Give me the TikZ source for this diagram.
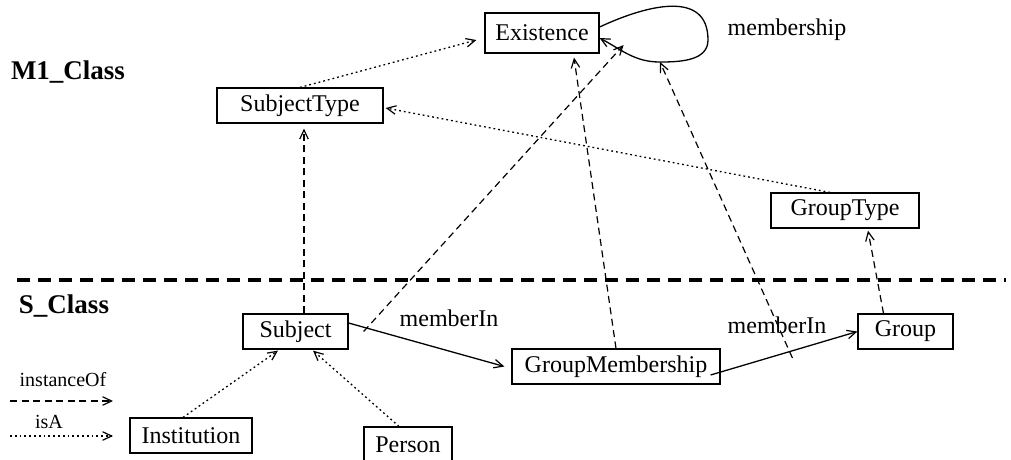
\documentclass[tikz,border=0pt]{standalone}
\usepackage{fontspec}
\setmainfont{Liberation Serif}
\usetikzlibrary{arrows.meta}

\begin{document}
\begin{tikzpicture}[x=1pt,y=-1pt,
  box/.style={draw,line width=1.2pt,inner sep=0pt,minimum height=35pt,
    font=\fontsize{24}{28}\selectfont},
  lbl/.style={inner sep=0pt,font=\fontsize{24}{28}\selectfont},
  level/.style={inner sep=0pt,font=\fontsize{27}{30}\selectfont\bfseries},
  legendtxt/.style={inner sep=0pt,font=\fontsize{20}{24}\selectfont},
  tip/.style={-{Straight Barb[length=9pt,width=8.5pt,line width=1.2pt]}},
  inst/.style={tip,line width=1.2pt,dash pattern=on 7pt off 4.5pt},
  isa/.style={tip,line width=1.3pt,dash pattern=on 1.8pt off 3pt},
  rel/.style={tip,line width=1.3pt},
  sep/.style={line width=3.2pt,dash pattern=on 13pt off 8pt}]
\useasboundingbox (0,0) rectangle (1011,459);

% level titles and the separator between them
\node[level] (m1) at (68,72) {M1\_Class};
\node[level] (sc) at (64,306) {S\_Class};
\coordinate (sep0) at (17,280);
\coordinate (sep1) at (1006,280);
\draw[sep] (sep0) -- (sep1);

% M1 classes
\node[box,minimum width=114pt,minimum height=40pt] (ex) at (542,33) {Existence};
\node[box,minimum width=166pt] (st) at (300,105.5) {SubjectType};
\node[box,minimum width=148pt] (gt) at (845,210.5) {GroupType};

% S classes
\node[box,minimum width=105pt] (sub) at (295.5,331.5) {Subject};
\node[box,minimum width=122pt] (inst) at (191,435.5) {Institution};
\node[box,minimum width=88pt] (per) at (408,444.5) {Person};
\node[box,minimum width=208pt] (gm) at (616,366.5) {GroupMembership};
\node[box,minimum width=95pt] (grp) at (905.5,331.5) {Group};

% the membership self-link on Existence
\coordinate (loopR) at (708,40);
\coordinate (loopB) at (660,62);
\draw[rel] ([yshift=6pt]ex.east) to[out=25,in=90,looseness=1.2] (loopR)
  to[out=-90,in=0] (loopB) to[out=180,in=-28] ([yshift=-5pt]ex.east);
\node[lbl] (mship) at (787,30) {membership};

% memberIn links
\draw[rel] ([yshift=8.5pt]sub.east) -- ([xshift=-7pt]gm.west);
\node[lbl] (mi1) at (449,318) {memberIn};
\draw[rel] ([xshift=-10pt,yshift=-8.5pt]gm.east) -- coordinate[pos=0.53] (mlink) (grp.west);
\node[lbl] (mi2) at (777,325) {memberIn};

% isA links
\draw[isa] (st.north) -- ([xshift=-8pt,yshift=-7pt]ex.west);
\draw[isa] ([xshift=-15pt]gt.north) -- ([xshift=2pt,yshift=-2.5pt]st.east);
\draw[isa] ([xshift=-8pt]inst.north) -- ([xshift=-17.5pt,yshift=-1pt]sub.south);
\draw[isa] ([xshift=-9pt]per.north) -- ([xshift=17.5pt,yshift=-1pt]sub.south);

% instanceOf links
\draw[inst] ([xshift=8.5pt]sub.north) -- ([xshift=4pt,yshift=-5pt]st.south);
\draw[inst] ([xshift=15pt]sub.east) -- ([xshift=24pt,yshift=-12pt]ex.east);
\draw[inst] (gm.north) -- ([xshift=32pt,yshift=-4pt]ex.south);
\draw[inst] ([xshift=-22pt]grp.north) -- ([xshift=23pt,yshift=-2pt]gt.south);
\draw[inst] ([xshift=4pt,yshift=-6pt]mlink) -- (loopB);

% legend
\node[legendtxt] (lgi) at (63,380) {instanceOf};
\coordinate (li0) at (10,401);
\coordinate (li1) at (113,401);
\draw[inst] (li0) -- (li1);
\node[legendtxt] (lga) at (49,422) {isA};
\coordinate (la0) at (10,436);
\coordinate (la1) at (113,436);
\draw[isa] (la0) -- (la1);
\end{tikzpicture}
\end{document}
